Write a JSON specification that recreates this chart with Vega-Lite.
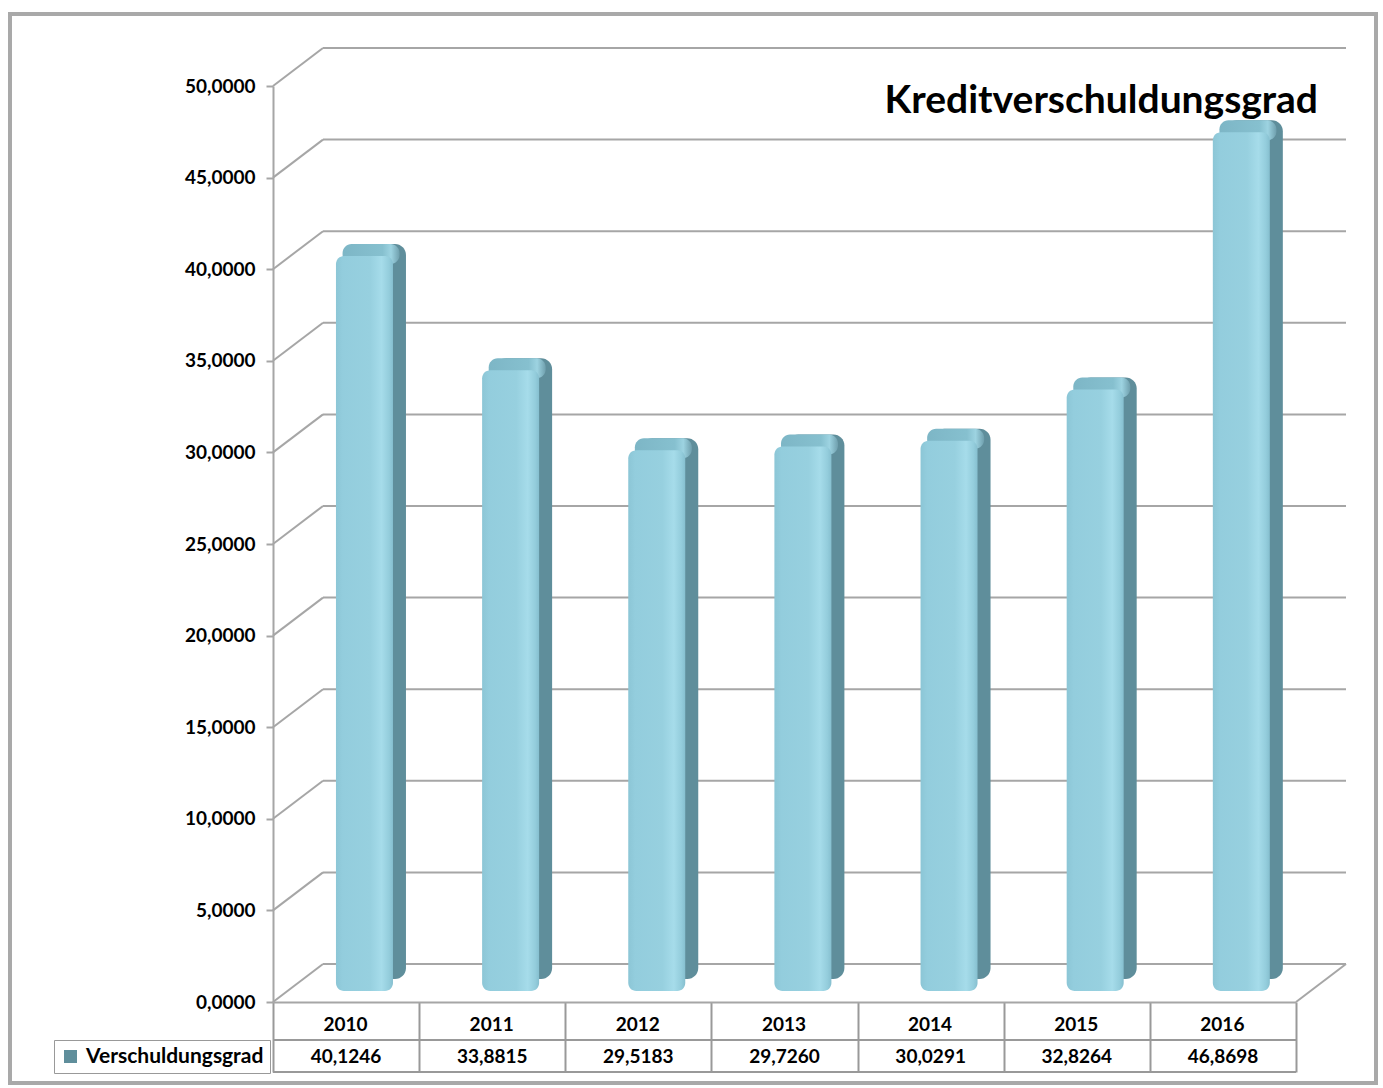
{
  "$schema": "https://vega.github.io/schema/vega-lite/v6.json",
  "width": 1366,
  "height": 1069,
  "autosize": {"type": "none"},
  "padding": {"left": 10, "top": 14, "right": 7, "bottom": 5},
  "background": "white",
  "config": {
    "view": {"stroke": "#a9a9a9", "strokeWidth": 4},
    "font": "Lato",
    "locale": {"number": {"decimal": ",", "thousands": ".", "grouping": [3], "currency": ["", " €"]}}
  },
  "title": {
    "text": "Kreditverschuldungsgrad",
    "anchor": "end",
    "frame": "group",
    "font": "Lato",
    "fontSize": 39,
    "fontWeight": "bold",
    "color": "#000000",
    "offset": 0,
    "baseline": "alphabetic",
    "dx": -58,
    "dy": 138
  },
  "datasets": {
    "bars": [
      {"Jahr": "2010", "Wert": 40.1246, "Reihe": "Verschuldungsgrad"},
      {"Jahr": "2011", "Wert": 33.8815, "Reihe": "Verschuldungsgrad"},
      {"Jahr": "2012", "Wert": 29.5183, "Reihe": "Verschuldungsgrad"},
      {"Jahr": "2013", "Wert": 29.7260, "Reihe": "Verschuldungsgrad"},
      {"Jahr": "2014", "Wert": 30.0291, "Reihe": "Verschuldungsgrad"},
      {"Jahr": "2015", "Wert": 32.8264, "Reihe": "Verschuldungsgrad"},
      {"Jahr": "2016", "Wert": 46.8698, "Reihe": "Verschuldungsgrad"}
    ],
    "ticks": [
      {"t": 0}, {"t": 5}, {"t": 10}, {"t": 15}, {"t": 20}, {"t": 25},
      {"t": 30}, {"t": 35}, {"t": 40}, {"t": 45}, {"t": 50}
    ]
  },
  "layer": [
    {
      "data": {"name": "ticks"},
      "mark": {"type": "rule", "color": "#a6a6a6", "strokeWidth": 2, "xOffset": 50, "x2Offset": 50, "yOffset": -38},
      "encoding": {
        "x": {"datum": "2010", "type": "ordinal", "bandPosition": 0,
              "scale": {"domain": ["2010","2011","2012","2013","2014","2015","2016"], "range": [263, 1286], "paddingInner": 0, "paddingOuter": 0}},
        "x2": {"datum": "2016", "bandPosition": 1},
        "y": {"field": "t", "type": "quantitative", "scale": {"domain": [0, 50], "range": [988, 72], "nice": false}}
      }
    },
    {
      "data": {"name": "ticks"},
      "mark": {"type": "rule", "color": "#a6a6a6", "strokeWidth": 2, "x2Offset": 50, "y2Offset": -38},
      "encoding": {
        "x": {"datum": "2010", "type": "ordinal", "bandPosition": 0},
        "x2": {"datum": "2010", "bandPosition": 0},
        "y": {"field": "t", "type": "quantitative"},
        "y2": {"field": "t"}
      }
    },
    {
      "data": {"name": "ticks"},
      "transform": [{"filter": "datum.t == 0"}],
      "mark": {"type": "rule", "color": "#a6a6a6", "strokeWidth": 2, "x2Offset": 50, "y2Offset": -38},
      "encoding": {
        "x": {"datum": "2016", "type": "ordinal", "bandPosition": 1},
        "x2": {"datum": "2016", "bandPosition": 1},
        "y": {"field": "t", "type": "quantitative"},
        "y2": {"field": "t"}
      }
    },
    {
      "data": {"name": "bars"},
      "mark": {"type": "bar", "width": 57, "xOffset": 31.4, "yOffset": -23, "y2Offset": -23, "cornerRadius": 11},
      "encoding": {
        "x": {"field": "Jahr", "type": "ordinal",
              "axis": {"orient": "bottom", "offset": -81, "title": null, "labelAngle": 0,
                       "tickBand": "extent", "tickSize": 70, "tickColor": "#999999", "tickWidth": 2,
                       "domainColor": "#a6a6a6", "domainWidth": 2,
                       "labelPadding": -48, "labelBaseline": "middle", "labelOffset": 21,
                       "labelFont": "Lato", "labelFontWeight": "bold", "labelFontSize": 19, "labelColor": "#000000"}},
        "y": {"field": "Wert", "type": "quantitative",
              "axis": {"values": [0,5,10,15,20,25,30,35,40,45,50], "format": ".4f", "offset": -263, "grid": false, "title": null,
                       "domainColor": "#a6a6a6", "domainWidth": 2, "tickColor": "#a6a6a6", "tickWidth": 2, "tickSize": 7,
                       "labelPadding": 11, "labelFont": "Lato", "labelFontWeight": "bold", "labelFontSize": 19, "labelColor": "#000000"}},
        "y2": {"datum": 0},
        "fill": {"field": "Reihe", "type": "nominal", "scale": {"range": ["#5f8e9b"]},
                 "legend": {"orient": "none", "legendX": 44, "legendY": 1026, "title": null, "padding": 6,
                            "strokeColor": "#999999", "symbolType": "square", "symbolSize": 169, "symbolStrokeWidth": 0,
                            "labelFont": "Lato", "labelFontWeight": "bold", "labelFontSize": 21, "labelColor": "#000000",
                            "labelOffset": 5, "labelLimit": 400}}
      }
    },
    {
      "data": {"name": "bars"},
      "mark": {"type": "bar", "width": 57, "xOffset": 25, "yOffset": -23, "y2Offset": -3, "cornerRadius": 9,
               "color": {"gradient": "linear", "x1": 0, "y1": 0, "x2": 1, "y2": 0,
                         "stops": [
                           {"offset": 0, "color": "#7db6c6"},
                           {"offset": 0.7, "color": "#86c0cf"},
                           {"offset": 0.85, "color": "#9dd3e1"},
                           {"offset": 1, "color": "#6f9fad"}
                         ]}},
      "encoding": {
        "x": {"field": "Jahr", "type": "ordinal"},
        "y": {"field": "Wert", "type": "quantitative"},
        "y2": {"field": "Wert"}
      }
    },
    {
      "data": {"name": "bars"},
      "mark": {"type": "bar", "width": 57, "xOffset": 18.4, "yOffset": -11, "y2Offset": -11, "cornerRadius": 8,
               "color": {"gradient": "linear", "x1": 0, "y1": 0, "x2": 1, "y2": 0,
                         "stops": [
                           {"offset": 0, "color": "#8cc6d6"},
                           {"offset": 0.12, "color": "#93cddd"},
                           {"offset": 0.6, "color": "#97d0df"},
                           {"offset": 0.8, "color": "#a6dcea"},
                           {"offset": 0.93, "color": "#94cddc"},
                           {"offset": 1, "color": "#86bfcf"}
                         ]}},
      "encoding": {
        "x": {"field": "Jahr", "type": "ordinal"},
        "y": {"field": "Wert", "type": "quantitative"},
        "y2": {"datum": 0}
      }
    },
    {
      "data": {"name": "bars"},
      "mark": {"type": "text", "yOffset": 55, "font": "Lato", "fontWeight": "bold", "fontSize": 19, "color": "#000000", "baseline": "middle", "align": "center"},
      "encoding": {
        "x": {"field": "Jahr", "type": "ordinal"},
        "y": {"datum": 0, "type": "quantitative"},
        "text": {"field": "Wert", "type": "quantitative", "format": ".4f"}
      }
    },
    {
      "data": {"name": "ticks"},
      "transform": [{"filter": "datum.t == 0"}],
      "mark": {"type": "rule", "color": "#999999", "strokeWidth": 2, "yOffset": 38},
      "encoding": {
        "x": {"datum": "2010", "type": "ordinal", "bandPosition": 0},
        "x2": {"datum": "2016", "bandPosition": 1},
        "y": {"field": "t", "type": "quantitative"}
      }
    },
    {
      "data": {"name": "ticks"},
      "transform": [{"filter": "datum.t == 0"}],
      "mark": {"type": "rule", "color": "#999999", "strokeWidth": 2, "yOffset": 70},
      "encoding": {
        "x": {"datum": "2010", "type": "ordinal", "bandPosition": 0},
        "x2": {"datum": "2016", "bandPosition": 1},
        "y": {"field": "t", "type": "quantitative"}
      }
    }
  ]
}
